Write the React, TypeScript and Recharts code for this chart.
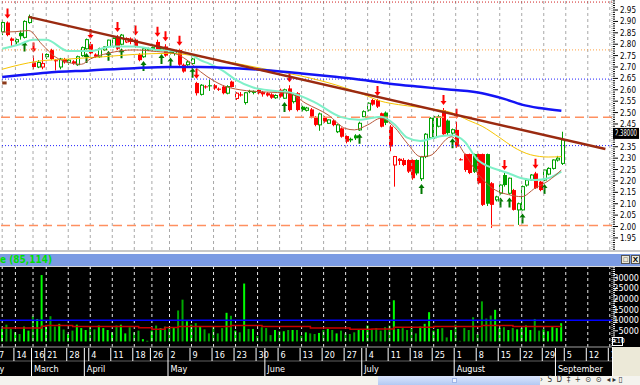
import React from "react";
import { ComposedChart, Bar, Line, XAxis, YAxis, ReferenceLine, Cell } from "recharts";

const RED = "#ff0000";
const GREEN = "#00a000";
const ARROW_GREEN = "#007800";
const NARROW = "'Liberation Sans Narrow', 'DejaVu Sans Condensed', 'Liberation Sans', Arial, sans-serif";

// daily candles: [open, high, low, close]
const candles: number[][] = [
  [2.855, 2.905, 2.84, 2.895], [2.895, 2.9, 2.835, 2.84], [2.825, 2.83, 2.79, 2.815], [2.81, 2.825, 2.8, 2.82],
  [2.85, 2.86, 2.82, 2.835], [2.83, 2.905, 2.825, 2.9], [2.895, 2.93, 2.89, 2.92], [2.72, 2.75, 2.69, 2.7],
  [2.7, 2.73, 2.695, 2.72], [2.7, 2.76, 2.69, 2.715], [2.745, 2.76, 2.735, 2.755], [2.775, 2.78, 2.73, 2.735],
  [2.73, 2.735, 2.685, 2.725], [2.7, 2.74, 2.69, 2.735], [2.735, 2.74, 2.715, 2.72], [2.72, 2.735, 2.71, 2.73],
  [2.725, 2.73, 2.71, 2.715], [2.71, 2.75, 2.705, 2.745], [2.75, 2.79, 2.745, 2.785], [2.78, 2.825, 2.775, 2.82],
  [2.8, 2.81, 2.755, 2.76], [2.755, 2.76, 2.74, 2.745], [2.745, 2.785, 2.74, 2.78], [2.775, 2.79, 2.77, 2.788],
  [2.79, 2.82, 2.785, 2.818], [2.79, 2.83, 2.785, 2.825], [2.833, 2.84, 2.775, 2.78], [2.8, 2.845, 2.795, 2.84],
  [2.81, 2.83, 2.805, 2.825], [2.825, 2.83, 2.8, 2.81], [2.82, 2.825, 2.785, 2.79], [2.755, 2.76, 2.725, 2.73],
  [2.745, 2.785, 2.74, 2.78], [2.775, 2.785, 2.77, 2.78], [2.78, 2.79, 2.77, 2.785], [2.81, 2.82, 2.77, 2.775],
  [2.775, 2.785, 2.77, 2.782], [2.79, 2.8, 2.745, 2.75], [2.775, 2.78, 2.755, 2.76], [2.76, 2.775, 2.75, 2.77],
  [2.775, 2.78, 2.705, 2.71], [2.71, 2.715, 2.675, 2.68], [2.71, 2.73, 2.705, 2.722], [2.715, 2.74, 2.71, 2.735],
  [2.63, 2.635, 2.575, 2.585], [2.58, 2.625, 2.575, 2.62], [2.615, 2.62, 2.605, 2.612], [2.62, 2.643, 2.595, 2.615],
  [2.62, 2.625, 2.6, 2.606], [2.605, 2.61, 2.595, 2.6], [2.614, 2.62, 2.58, 2.585], [2.585, 2.62, 2.58, 2.614],
  [2.636, 2.64, 2.61, 2.612], [2.562, 2.59, 2.555, 2.585], [2.58, 2.59, 2.57, 2.575], [2.544, 2.59, 2.535, 2.587],
  [2.595, 2.6, 2.585, 2.59], [2.59, 2.597, 2.58, 2.593], [2.6, 2.605, 2.58, 2.585], [2.59, 2.595, 2.57, 2.58],
  [2.585, 2.59, 2.57, 2.575], [2.58, 2.585, 2.56, 2.565], [2.565, 2.58, 2.56, 2.575], [2.6, 2.605, 2.565, 2.57],
  [2.563, 2.605, 2.56, 2.6], [2.606, 2.62, 2.505, 2.511], [2.548, 2.585, 2.54, 2.58], [2.585, 2.59, 2.505, 2.511],
  [2.526, 2.53, 2.505, 2.511], [2.51, 2.525, 2.505, 2.52], [2.514, 2.52, 2.475, 2.482], [2.479, 2.485, 2.44, 2.446],
  [2.446, 2.5, 2.42, 2.494], [2.48, 2.485, 2.455, 2.46], [2.453, 2.47, 2.45, 2.468], [2.465, 2.47, 2.44, 2.445],
  [2.416, 2.45, 2.41, 2.446], [2.431, 2.435, 2.39, 2.394], [2.397, 2.4, 2.365, 2.372], [2.385, 2.39, 2.37, 2.378],
  [2.4, 2.405, 2.38, 2.387], [2.424, 2.46, 2.42, 2.453], [2.482, 2.51, 2.48, 2.504], [2.511, 2.545, 2.505, 2.541],
  [2.555, 2.56, 2.53, 2.535], [2.555, 2.56, 2.52, 2.526], [2.497, 2.5, 2.435, 2.438], [2.5, 2.505, 2.445, 2.455],
  [2.438, 2.445, 2.33, 2.351], [2.27, 2.31, 2.175, 2.307], [2.29, 2.3, 2.27, 2.295], [2.292, 2.3, 2.265, 2.27],
  [2.292, 2.295, 2.235, 2.241], [2.292, 2.295, 2.205, 2.212], [2.292, 2.295, 2.225, 2.233], [2.21, 2.31, 2.2, 2.305],
  [2.307, 2.41, 2.3, 2.405], [2.39, 2.48, 2.385, 2.475], [2.39, 2.485, 2.385, 2.48], [2.44, 2.49, 2.435, 2.482],
  [2.51, 2.52, 2.4, 2.405], [2.465, 2.47, 2.4, 2.41], [2.41, 2.43, 2.4, 2.425], [2.424, 2.46, 2.345, 2.351],
  [2.295, 2.3, 2.29, 2.292], [2.318, 2.32, 2.24, 2.248], [2.318, 2.32, 2.23, 2.235], [2.318, 2.32, 2.235, 2.24],
  [2.318, 2.32, 2.185, 2.19], [2.318, 2.32, 2.09, 2.095], [2.318, 2.32, 2.09, 2.1], [2.19, 2.195, 1.994, 2.095],
  [2.117, 2.135, 2.11, 2.13], [2.146, 2.185, 2.14, 2.182], [2.226, 2.235, 2.175, 2.182], [2.146, 2.215, 2.14, 2.212],
  [2.16, 2.165, 2.07, 2.073], [2.073, 2.105, 2.007, 2.1], [2.073, 2.18, 2.07, 2.175], [2.182, 2.21, 2.175, 2.204],
  [2.204, 2.23, 2.2, 2.226], [2.233, 2.24, 2.165, 2.168], [2.197, 2.2, 2.155, 2.16], [2.204, 2.25, 2.2, 2.248],
  [2.23, 2.26, 2.225, 2.255], [2.255, 2.295, 2.25, 2.292], [2.292, 2.31, 2.285, 2.3], [2.277, 2.416, 2.27, 2.38],
];

// buy / sell signal arrows (day index)
const upArrows = [5, 19, 24, 27, 32, 36, 38, 43, 64, 81, 95, 102, 113, 115, 118, 123];
const downArrows = [1, 7, 20, 26, 30, 35, 37, 40, 44, 65, 85, 100, 103, 114, 121];

// volume (axis units, x10)
const volumes = [
  5900, 7900, 5900, 4300, 3500, 7000, 5100, 11900, 10600, 31300, 7500, 11900, 7000, 8300, 5600, 3500,
  5100, 7900, 6300, 5400, 7000, 5700, 7500, 6300, 5400, 4300, 7500, 7900, 3800, 6700, 4300, 5100,
  1100, 300, 5100, 7500, 6300, 7000, 7000, 6700, 14600, 19700, 9500, 7900, 8600, 7000, 5700, 3800,
  7000, 3800, 6300, 13500, 12100, 5100, 4300, 27300, 5900, 5900, 2700, 6700, 6300, 3000, 5400, 4800,
  4800, 5400, 5400, 5400, 2700, 4300, 3800, 3500, 4000, 5400, 5900, 5400, 3800, 5100, 3800, 3500,
  4300, 5400, 5700, 7500, 5400, 6300, 5100, 6700, 7500, 19400, 5900, 6300, 5400, 6300, 3800, 7000,
  8300, 13800, 5100, 5900, 6300, 1900, 5400, 7900, 300, 6300, 5400, 11400, 3500, 18900, 10800, 12200,
  14900, 6300, 6700, 5400, 6300, 5700, 6300, 7500, 5400, 10600, 5100, 5700, 4800, 7000, 6300, 8600,
];

// moving averages: [day index, value]
const maFast: number[][] = [
  [0, 2.853], [3, 2.855], [6, 2.86], [9, 2.8], [12, 2.745], [15, 2.72], [18, 2.712], [20, 2.735], [24, 2.76],
  [30, 2.775], [35, 2.768], [39, 2.76], [42, 2.73], [45, 2.68], [48, 2.64], [50, 2.62], [54, 2.6], [60, 2.59],
  [65, 2.585], [69, 2.54], [74, 2.49], [78, 2.43], [80, 2.424], [83, 2.446], [86, 2.475], [89, 2.438],
  [92, 2.365], [95, 2.307], [97, 2.31], [102, 2.394], [105, 2.32], [108, 2.233], [112, 2.16], [115, 2.14],
  [118, 2.131], [121, 2.168], [124, 2.2], [127, 2.248],
];
const maMid: number[][] = [
  [0, 2.78], [4, 2.8], [7, 2.82], [10, 2.82], [15, 2.77], [20, 2.77], [25, 2.79], [30, 2.79], [35, 2.775],
  [40, 2.768], [43, 2.753], [45, 2.73], [47, 2.715], [50, 2.685], [53, 2.645], [57, 2.61], [62, 2.595],
  [66, 2.585], [71, 2.545], [77, 2.48], [81, 2.468], [86, 2.482], [89, 2.45], [92, 2.39], [95, 2.375],
  [98, 2.39], [102, 2.4], [105, 2.373], [108, 2.292], [115, 2.234], [118, 2.212], [121, 2.204], [124, 2.212],
  [127, 2.241],
];
const maSlow: number[][] = [
  [0, 2.69], [4, 2.71], [8, 2.725], [15, 2.735], [23, 2.745], [30, 2.755], [38, 2.76], [45, 2.745], [52, 2.72],
  [60, 2.69], [68, 2.66], [76, 2.62], [82, 2.58], [86, 2.55], [90, 2.535], [94, 2.525], [98, 2.515], [102, 2.5],
  [106, 2.465], [109, 2.44], [113, 2.39], [116, 2.35], [120, 2.315], [124, 2.305], [127, 2.307],
];
const maLong: number[][] = [
  [0, 2.656], [5, 2.666], [10, 2.675], [20, 2.685], [30, 2.695], [38, 2.7], [45, 2.7], [50, 2.697], [60, 2.686],
  [68, 2.672], [75, 2.658], [82, 2.643], [88, 2.627], [95, 2.613], [102, 2.6], [109, 2.585], [114, 2.56],
  [118, 2.535], [122, 2.52], [127, 2.508],
];
const volAvg: number[][] = [
  [0, 6300], [9, 7200], [10, 7500], [16, 7000], [31, 6400], [34, 5800], [37, 6600], [40, 7000], [52, 7500],
  [59, 7000], [70, 6300], [79, 5700], [84, 5900], [89, 6700], [98, 7000], [109, 7500], [116, 7100], [127, 7100],
];

// price levels drawn across the chart
const levels = [
  { v: 2.985, kind: "redDot" },
  { v: 2.775, kind: "orangeDot" },
  { v: 2.647, kind: "blueDot" },
  { v: 2.479, kind: "orangeDash" },
  { v: 2.355, kind: "blueDot" },
  { v: 2.005, kind: "orangeDash" },
];
const trend = [{ x: 6, y: 2.92 }, { x: 137, y: 2.34 }];
const lastPrice = 2.38;
const lastPriceText = "2.38000";

// time axis
const dayTicks = [
  { i: 0, label: "7", tail: true }, { i: 3, label: "14" }, { i: 7, label: "16" }, { i: 10, label: "21" },
  { i: 15, label: "28" }, { i: 20, label: "4" }, { i: 25, label: "11" }, { i: 30, label: "18" },
  { i: 34, label: "26" }, { i: 38, label: "2" }, { i: 43, label: "9" }, { i: 48, label: "16" },
  { i: 53, label: "23" }, { i: 58, label: "30" }, { i: 63, label: "6" }, { i: 68, label: "13" },
  { i: 73, label: "20" }, { i: 78, label: "27" }, { i: 83, label: "4" }, { i: 88, label: "11" },
  { i: 93, label: "18" }, { i: 98, label: "25" }, { i: 103, label: "1" }, { i: 108, label: "8" },
  { i: 113, label: "15" }, { i: 118, label: "22" }, { i: 123, label: "29" }, { i: 128, label: "5" },
  { i: 133, label: "12" }, { i: 138, label: "19" },
];
const monthTicks = [
  { i: 0, label: "February", tail: true }, { i: 7, label: "March" }, { i: 19, label: "April" },
  { i: 38, label: "May" }, { i: 60, label: "June" }, { i: 82, label: "July" }, { i: 103, label: "August" },
  { i: 126, label: "September" },
];
const priceLabels = [
  "1.95", "2.00", "2.05", "2.10", "2.15", "2.20", "2.25", "2.30", "2.35", "2.40", "2.45",
  "2.50", "2.55", "2.60", "2.65", "2.70", "2.75", "2.80", "2.85", "2.90", "2.95",
];
const volLabels = ["5000", "10000", "15000", "20000", "25000", "30000"];

const TOTAL_DAYS = 139; // includes the empty days right of the last candle

const rows: any[] = Array.from({ length: TOTAL_DAYS }, (_, i) => ({ i }));
candles.forEach(([o, h, l, c], i) => {
  const prev = i > 0 ? candles[i - 1][3] : o;
  Object.assign(rows[i], { o, h, l, c, prev, range: [l, h], vol: volumes[i] });
});
upArrows.forEach((i) => (rows[i].sig = 1));
downArrows.forEach((i) => (rows[i].sig = -1));
const put = (pts: number[][], key: string) => pts.forEach(([i, v]) => (rows[i][key] = v));
put(maFast, "fast");
put(maMid, "mid");
put(maSlow, "slow");
put(maLong, "long");
put(volAvg, "volAvg");

// ruler ticks for the axes
const priceTicks: number[] = [];
for (let k = 190; k <= 299; k++) priceTicks.push(k / 100);
const volTicks: number[] = [];
for (let k = 0; k <= 35; k++) volTicks.push(k * 1000);

const dayAxisTicks = Array.from(new Set([...dayTicks.map((d) => d.i), ...monthTicks.map((m) => m.i)]));

const LEVEL_STYLE: Record<string, any> = {
  redDot: { stroke: "#d02020", strokeDasharray: "1 2" },
  orangeDot: { stroke: "#ffa040", strokeDasharray: "1 2" },
  blueDot: { stroke: "#2020ff", strokeDasharray: "1 2" },
  orangeDash: { stroke: "#ff9060", strokeDasharray: "9 5", strokeWidth: 1.5 },
};

function Arrow({ cx, tip, dir, color }: any) {
  const s = dir; // 1 = points up (below candle), -1 = points down (above)
  const hd = 4 * s;
  const st = 10 * s;
  const d = `M${cx},${tip} L${cx + 3},${tip + hd} L${cx + 1},${tip + hd} L${cx + 1},${tip + st} L${cx - 1},${tip + st} L${cx - 1},${tip + hd} L${cx - 3},${tip + hd} Z`;
  return <path d={d} fill={color} />;
}

function Candle(props: any) {
  const { x, y, width, height, payload } = props;
  if (!payload || payload.o == null || !height) return null;
  const { o, h, l, c, prev, sig } = payload;
  const k = height / (h - l);
  const py = (v: number) => y + (h - v) * k;
  const n = Math.round(x + width / 2);
  const col = c >= prev ? GREEN : RED;
  const top = py(Math.max(o, c));
  const bot = py(Math.min(o, c));
  const hollow = c > o;
  return (
    <g>
      <line x1={n + 0.5} x2={n + 0.5} y1={y} y2={y + height} stroke={col} />
      {hollow ? (
        <rect x={n - 0.5} y={top} width={3} height={Math.max(bot - top, 1)} fill="#fff" stroke={col} />
      ) : (
        <rect x={n - 1} y={top} width={4} height={Math.max(bot - top, 1)} fill={col} />
      )}
      {sig === 1 && <Arrow cx={n + 0.5} tip={y + height + 3} dir={1} color={ARROW_GREEN} />}
      {sig === -1 && <Arrow cx={n + 0.5} tip={y - 3} dir={-1} color={RED} />}
    </g>
  );
}

function PriceTick({ x, y, payload }: any) {
  const v = payload.value;
  const label = priceLabels.find((p) => Math.abs(parseFloat(p) - v) < 1e-6);
  // the last-price tag sits just above the last price and hides the label under it
  const covered = Math.abs(v - (lastPrice + 0.025)) < 0.03;
  return (
    <g>
      <line x1={x + 1} x2={x + (label ? 6 : 3)} y1={y} y2={y} stroke="#000" />
      {label && !covered && (
        <text x={x + 8} y={y + 3} fontSize={9} fontFamily={NARROW} fill="#000" textLength={16} lengthAdjust="spacingAndGlyphs">
          {label}
        </text>
      )}
    </g>
  );
}

function VolTick({ x, y, payload }: any) {
  const label = volLabels.find((p) => parseFloat(p) === payload.value);
  return (
    <g>
      <line x1={x + 1} x2={x + (label ? 6 : 3)} y1={y} y2={y} stroke="#fff" />
      {label && (
        <text x={x + 27} y={y + 3} fontSize={9} fontFamily={NARROW} fill="#fff" textAnchor="end">
          {label}
        </text>
      )}
    </g>
  );
}

function DayTick({ x, y, payload }: any) {
  const d = dayTicks.find((t) => t.i === payload.value);
  if (d && d.tail) {
    return (
      <text x={x + 2} y={y + 11} fontSize={9} fontFamily={NARROW} fill="#fff" textAnchor="end">{d.label}</text>
    );
  }
  return (
    <g>
      <line x1={x - 1.5} x2={x - 1.5} y1={y + 1} y2={y + 14} stroke="#fff" />
      {d && (
        <text x={x + 1} y={y + 11} fontSize={9} fontFamily={NARROW} fill="#fff">{d.label}</text>
      )}
    </g>
  );
}

function MonthTick({ x, y, payload }: any) {
  const m = monthTicks.find((t) => t.i === payload.value);
  if (!m) return null;
  if (m.tail) {
    return <text x={x + 2} y={y + 11} fontSize={9} fontFamily={NARROW} fill="#fff" textAnchor="end">{m.label}</text>;
  }
  return (
    <g>
      <line x1={x - 1.5} x2={x - 1.5} y1={y} y2={y + 15} stroke="#fff" />
      <text x={x + 1} y={y + 11} fontSize={9} fontFamily={NARROW} fill="#fff">{m.label}</text>
    </g>
  );
}

function PriceTag({ viewBox }: any) {
  const x = viewBox.x + viewBox.width + 1;
  const y = viewBox.y;
  return (
    <g>
      <rect x={x} y={y - 12} width={26} height={11} fill="#000" />
      <text x={x + 2} y={y - 3.5} fontSize={8} fontFamily={NARROW} fill="#fff" textLength={22} lengthAdjust="spacingAndGlyphs">
        {lastPriceText}
      </text>
    </g>
  );
}

const abs = (left: number, top: number, width: number, height: number, extra: any = {}) => ({
  position: "absolute" as const, left, top, width, height, ...extra,
});

export default function App() {
  return (
    <div style={{ position: "fixed", left: 0, top: 0, width: 640, height: 385, overflow: "hidden", background: "#fff" }}>
      <div style={abs(0, 0, 640, 250)}>
        <ComposedChart width={640} height={250} data={rows} margin={{ top: 0, right: 0, bottom: 0, left: 0 }}>
          <XAxis dataKey="i" type="category" hide />
          <YAxis
            orientation="right" width={28} domain={[1.897, 2.994]} allowDataOverflow
            ticks={priceTicks} interval={0} tick={<PriceTick />} tickLine={false} tickSize={0} tickMargin={0}
            axisLine={{ stroke: "#909090", strokeDasharray: "1 1" }}
          />
          {dayTicks.map((t) => (
            <ReferenceLine key={"g" + t.i} x={t.i} stroke="#a8a8a8" strokeDasharray="3 3" />
          ))}
          {levels.map((lv, k) => (
            <ReferenceLine key={"l" + k} y={lv.v} {...LEVEL_STYLE[lv.kind]} />
          ))}
          <Bar dataKey="range" shape={<Candle />} isAnimationActive={false} />
          <Line dataKey="slow" type="monotone" stroke="#f7c400" strokeWidth={1} dot={false} activeDot={false} connectNulls isAnimationActive={false} />
          <Line dataKey="mid" type="monotone" stroke="#7ff0c8" strokeWidth={2} dot={false} activeDot={false} connectNulls isAnimationActive={false} />
          <Line dataKey="fast" type="monotone" stroke="#b8583a" strokeWidth={1} dot={false} activeDot={false} connectNulls isAnimationActive={false} />
          <Line dataKey="long" type="monotone" stroke="#1414f5" strokeWidth={2.5} dot={false} activeDot={false} connectNulls isAnimationActive={false} />
          <ReferenceLine segment={trend} stroke="#9a2a10" strokeWidth={2.5} />
          <ReferenceLine segment={[{ x: 0, y: 2.63 }, { x: 1, y: 2.63 }]} stroke="#8b3a1a" strokeWidth={3} />
          <ReferenceLine y={lastPrice} stroke="none" label={<PriceTag />} />
        </ComposedChart>
      </div>

      {/* volume window title bar */}
      <div style={abs(0, 250, 640, 2, { background: "#c8c8c8" })} />
      <div style={abs(0, 253, 640, 13, { background: "#7b9be3", borderTop: "1px solid #fff", boxSizing: "border-box" })}>
        <span style={{ position: "absolute", left: 0, top: 0, fontSize: 10, lineHeight: "12px", fontWeight: "bold", color: "#00e000", fontFamily: NARROW }}>
          e (85,114)
        </span>
        <span style={abs(621, 1, 9, 9, { background: "#ece9d8", border: "1px solid #555", boxSizing: "border-box", fontSize: 7, lineHeight: "7px", textAlign: "center", fontFamily: "Arial" })}>□</span>
        <span style={abs(631, 1, 9, 9, { background: "#ece9d8", border: "1px solid #555", boxSizing: "border-box", fontSize: 8, lineHeight: "7px", textAlign: "center", fontFamily: "Arial", fontWeight: "bold" })}>X</span>
      </div>
      <div style={abs(0, 266, 640, 1, { background: "#d8d8d8" })} />

      <div style={abs(0, 267, 640, 109, { background: "#000" })}>
        <ComposedChart width={640} height={109} data={rows} margin={{ top: 0, right: 0, bottom: 0, left: 0 }}>
          <XAxis
            xAxisId="d" dataKey="i" type="category" ticks={dayAxisTicks} interval={0} tick={<DayTick />}
            height={14} tickLine={false} tickSize={0} tickMargin={0} axisLine={{ stroke: "#a0a0a0" }}
          />
          <XAxis
            xAxisId="m" dataKey="i" type="category" ticks={monthTicks.map((m) => m.i)} interval={0} tick={<MonthTick />}
            height={15} tickLine={false} tickSize={0} tickMargin={0} axisLine={{ stroke: "#606060" }}
          />
          <YAxis
            orientation="right" width={28} domain={[-2620, 35100]} allowDataOverflow ticks={volTicks} interval={0}
            tick={<VolTick />} tickLine={false} tickSize={0} tickMargin={0} axisLine={{ stroke: "#c0c0c0", strokeDasharray: "1 1" }}
          />
          {dayTicks.map((t) => (
            <ReferenceLine key={"vg" + t.i} xAxisId="d" x={t.i} stroke="#e8e8e8" strokeDasharray="3 3" />
          ))}
          <Bar xAxisId="d" dataKey="vol" barSize={2} isAnimationActive={false}>
            {rows.map((r) => (
              <Cell key={r.i} fill={r.c >= r.o ? "#00ff00" : "#00a800"} />
            ))}
          </Bar>
          <ReferenceLine xAxisId="d" y={10000} stroke="#0000ff" strokeWidth={1.5} />
          <Line xAxisId="d" dataKey="volAvg" type="stepAfter" stroke="#c80000" strokeWidth={1.5} dot={false} activeDot={false} connectNulls isAnimationActive={false} />
          <Line xAxisId="m" dataKey="vol" stroke="none" dot={false} activeDot={false} isAnimationActive={false} />
        </ComposedChart>
      </div>
      <div style={abs(612, 337, 11, 9, { border: "1px solid #fff", boxSizing: "border-box", color: "#fff", fontSize: 7, lineHeight: "7px", fontFamily: NARROW })}>x10</div>
      <div style={abs(612, 347, 28, 29, { background: "#ece9d8", borderLeft: "1px solid #fff", boxSizing: "border-box" })} />

      {/* scroll bar strip */}
      <div style={abs(0, 376, 640, 9, { background: "#f4f3ee" })} />
      <div style={abs(378, 376, 162, 9, { background: "linear-gradient(#dbe6fc, #b3c9f3)" })} />
      <div style={abs(452, 378, 5, 5, { background: "#eef3ff", border: "1px solid #9fb6e8", boxSizing: "border-box" })} />
      <div style={abs(540, 375, 100, 10, { fontSize: 8, lineHeight: "10px", color: "#333", fontFamily: NARROW, whiteSpace: "pre" })}>
        {"›  S  D  ‡  +  ⊙  ⊙  ◂ ▸ ▯"}
      </div>
    </div>
  );
}
